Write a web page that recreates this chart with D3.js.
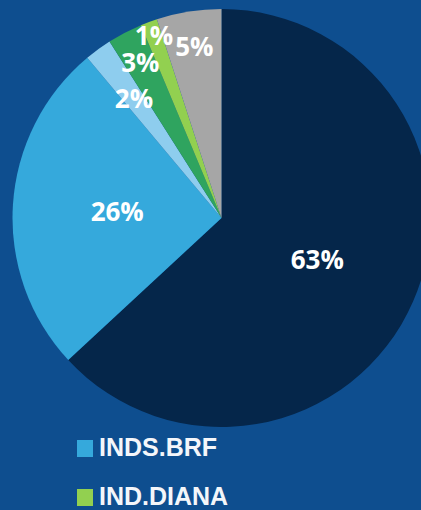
<!DOCTYPE html>
<html>
<head>
<meta charset="utf-8">
<script src="https://cdn.jsdelivr.net/npm/d3@7"></script>
<style>
  html, body { margin: 0; padding: 0; background: #0e4e8f; overflow: hidden; }
  svg { display: block; }
</style>
</head>
<body>
<div id="chart"></div>
<script>
// slices, clockwise from 12 o'clock
const categories = ["A", "INDS.BRF", "B", "C", "IND.DIANA", "D"];
const values = [63.1, 25.8, 2.1, 2.7, 1.3, 5.0];
const colors = ["#05264a", "#35a9dc", "#8ecdee", "#2fa45f", "#92d050", "#a6a6a6"];
const legendItems = ["INDS.BRF", "IND.DIANA"];

const width = 421, height = 510;
const cx = 221.5, cy = 218, radius = 209;
// how far out each label sits (fraction of radius)
const labelR = [0.5, 0.5, 0.71, 0.84, 0.93, 0.83];

const total = d3.sum(values);
const data = categories.map((c, i) => ({ name: c, value: values[i], i }));

const svg = d3.select("#chart")
  .append("svg")
  .attr("width", width)
  .attr("height", height);

const g = svg.append("g")
  .attr("transform", `translate(${cx},${cy})`);

const pie = d3.pie()
  .value(d => d.value)
  .sort(null);

const arc = d3.arc()
  .innerRadius(0)
  .outerRadius(radius);

const arcs = pie(data);

g.selectAll("path")
  .data(arcs)
  .join("path")
  .attr("d", arc)
  .attr("fill", d => colors[d.data.i]);

const fmt = d3.format(".0%");

g.selectAll("text.lbl")
  .data(arcs)
  .join("text")
  .attr("class", "lbl")
  .attr("transform", d => {
    const r = radius * labelR[d.data.i];
    const a = d3.arc().innerRadius(r).outerRadius(r);
    const [x, y] = a.centroid(d);
    return `translate(${x},${y})`;
  })
  .attr("text-anchor", "middle")
  .attr("dy", "0.36em")
  .attr("fill", "#ffffff")
  .style("font-family", "'Open Sans', sans-serif")
  .style("font-weight", "bold")
  .style("font-size", "26px")
  .text(d => fmt(d.data.value / total));

// legend
const ly = d3.scalePoint()
  .domain(legendItems)
  .range([448, 497]);

const leg = svg.append("g")
  .selectAll("g")
  .data(legendItems)
  .join("g")
  .attr("transform", d => `translate(77,${ly(d)})`);

leg.append("rect")
  .attr("x", 0)
  .attr("y", -8)
  .attr("width", 16)
  .attr("height", 17)
  .attr("fill", d => colors[categories.indexOf(d)]);

leg.append("text")
  .attr("x", 22)
  .attr("y", 8)
  .attr("fill", "#f4f6fa")
  .style("font-family", "'Liberation Sans', Arial, sans-serif")
  .style("font-weight", "bold")
  .style("font-size", "25px")
  .text(d => d);
</script>
</body>
</html>
